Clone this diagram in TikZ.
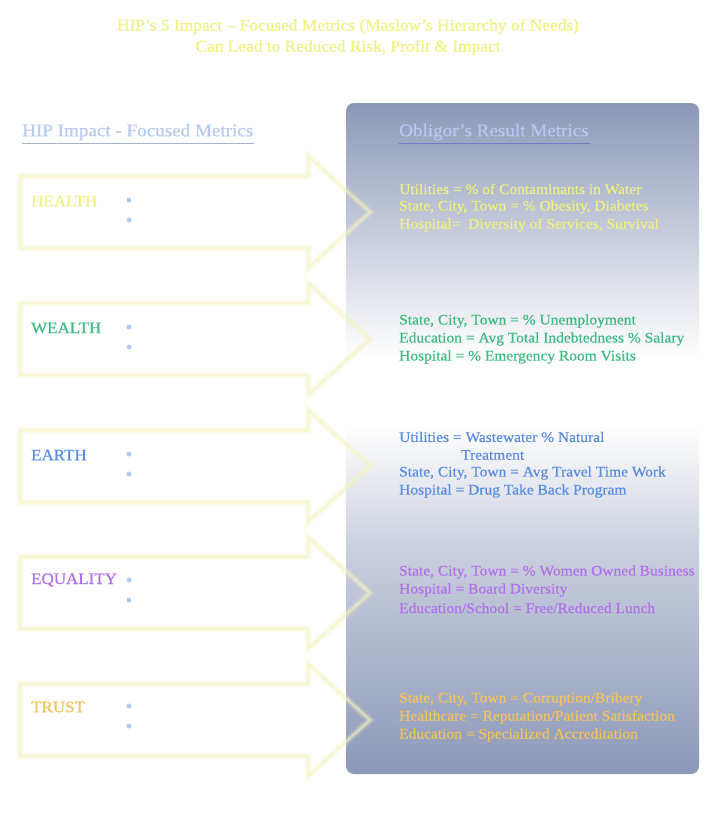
\documentclass[tikz,border=0pt]{standalone}
\usepackage{fontspec}
\setmainfont{Liberation Serif}[FakeStretch=1.06,FakeBold=0.4]
\definecolor{pblue}{HTML}{8C98B8}
\definecolor{cyel}{HTML}{F0F280}
\definecolor{cgrn}{HTML}{3DBB80}
\definecolor{cblu}{HTML}{5A8CE6}
\definecolor{cpur}{HTML}{B070EA}
\definecolor{corg}{HTML}{F2C55A}
\definecolor{chead}{HTML}{B8C8F0}
\definecolor{glow}{HTML}{F6F4C0}
\pgfdeclareverticalshading{panel}{100bp}{color(0bp)=(pblue); color(25bp)=(pblue); color(42bp)=(pblue!45); color(51bp)=(white); color(56bp)=(white); color(75bp)=(pblue); color(100bp)=(pblue)}
\tikzset{
  txt/.style={anchor=west,inner sep=0pt,font=\fontsize{14.6}{17}\selectfont},
  lab/.style={anchor=west,inner sep=0pt,font=\fontsize{16}{17}\selectfont},
  hd/.style={anchor=west,inner sep=0pt,font=\fontsize{18}{20}\selectfont},
  bul/.style={circle,fill=chead,inner sep=0pt,minimum size=5pt},
}
\newcommand{\arrowpath}[1]{(20,#1-36) -- (308,#1-36) -- (308,#1-56) -- (370,#1) -- (308,#1+56) -- (308,#1+36) -- (20,#1+36) -- cycle}
\begin{document}
\begin{tikzpicture}[x=1pt,y=-1pt]
\useasboundingbox (0,0) rectangle (706,828);
\fill[white] (0,0) rectangle (706,828);
\node[inner sep=0pt,align=center,text=cyel,font=\fontsize{16.4}{21}\selectfont] (title) at (348,37) {HIP’s 5 Impact – Focused Metrics (Maslow’s Hierarchy of Needs)\\Can Lead to Reduced Risk, Profit \& Impact};
\foreach \c in {212,339,466,593,720}{\fill[white] \arrowpath{\c};}
\shade[shading=panel,rounded corners=8pt] (346,103) rectangle (699,774);
\foreach \c in {212,339,466,593,720}{
  \draw[glow,line width=7pt,opacity=0.2,line join=miter] \arrowpath{\c};
  \draw[glow,line width=4pt,opacity=0.3,line join=miter] \arrowpath{\c};
  \draw[glow,line width=1.5pt,opacity=0.5,line join=miter] \arrowpath{\c};
}
\node[hd,text=chead] (lh) at (22,132) {HIP Impact - Focused Metrics};
\draw[chead!70!gray,line width=0.6pt] (22,143) -- (254,143);
\node[hd,text=chead] (rh) at (399,132) {Obligor’s Result Metrics};
\draw[pblue!80!blue,line width=0.6pt] (399,143) -- (590,143);
\node[lab,text=cyel] (l1) at (31,201) {HEALTH};
\node[lab,text=cgrn] (l2) at (31,328) {WEALTH};
\node[lab,text=cblu] (l3) at (31,455) {EARTH};
\node[lab,text=cpur] (l4) at (31,580) {EQUALITY};
\node[lab,text=corg] (l5) at (31,707) {TRUST};
\foreach \c [count=\i] in {200,327,454,580,706}{
  \node[bul] (b\i a) at (129,\c) {};
  \node[bul] (b\i b) at (129,\c+20) {};
}
\node[txt,text=cyel] (r1a) at (399,189) {Utilities = \% of Contaminants in Water};
\node[txt,text=cyel] (r1b) at (399,207) {State, City, Town = \% Obesity, Diabetes};
\node[txt,text=cyel] (r1c) at (399,225) {Hospital=\ \ Diversity of Services, Survival};
\node[txt,text=cgrn] (r2a) at (399,321) {State, City, Town = \% Unemployment};
\node[txt,text=cgrn] (r2b) at (399,339) {Education = Avg Total Indebtedness \% Salary};
\node[txt,text=cgrn] (r2c) at (399,357) {Hospital = \% Emergency Room Visits};
\node[txt,text=cblu] (r3a) at (399,437) {Utilities = Wastewater \% Natural};
\node[txt,text=cblu] (r3b) at (461,455) {Treatment};
\node[txt,text=cblu] (r3c) at (399,473) {State, City, Town = Avg Travel Time Work};
\node[txt,text=cblu] (r3d) at (399,491) {Hospital = Drug Take Back Program};
\node[txt,text=cpur] (r4a) at (399,572) {State, City, Town = \% Women Owned Business};
\node[txt,text=cpur] (r4b) at (399,590) {Hospital = Board Diversity};
\node[txt,text=cpur] (r4c) at (399,608) {Education/School = Free/Reduced Lunch};
\node[txt,text=corg] (r5a) at (399,699) {State, City, Town = Corruption/Bribery};
\node[txt,text=corg] (r5b) at (399,717) {Healthcare = Reputation/Patient Satisfaction};
\node[txt,text=corg] (r5c) at (399,735) {Education = Specialized Accreditation};
\end{tikzpicture}
\end{document}
